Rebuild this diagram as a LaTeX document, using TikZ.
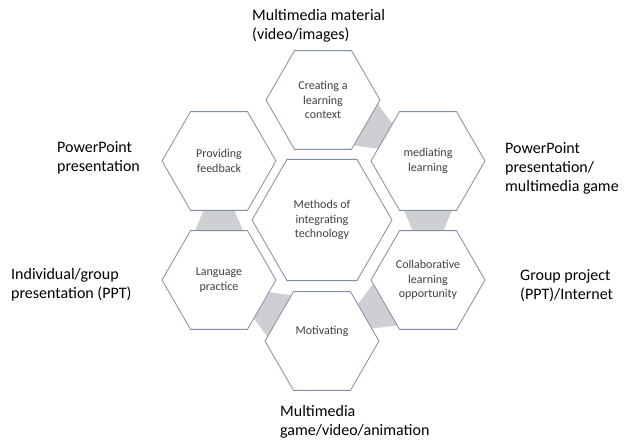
\documentclass[tikz,border=0pt]{standalone}
\usepackage{fontspec}
\setmainfont{Carlito}
\usetikzlibrary{shapes.geometric,calc,backgrounds}
\definecolor{hexline}{RGB}{128,142,162}
\definecolor{linkgray}{RGB}{206,207,211}
\definecolor{hextext}{RGB}{64,64,64}
\def\hexlink#1#2{%
  \path ($(#1)!47pt!(#2)$) coordinate (p) ($(#1)!73pt!(#2)$) coordinate (q);
  \fill[link] ($(p)!25pt!90:(#2)$) -- ($(p)!25pt!-90:(#2)$)
    -- ($(q)!14pt!-90:(#2)$) -- ($(q)!14pt!90:(#2)$) -- cycle;}

\begin{document}
\begin{tikzpicture}
[x=1pt,y=-1pt,
 hex/.style={regular polygon,regular polygon sides=6,draw=hexline,line width=0.8pt,fill=white,inner sep=0pt,minimum size=114pt,align=center,text=hextext,font=\fontsize{12}{14.5}\selectfont},
 bighex/.style={hex,minimum size=140pt},
 hextxt/.style={align=center,text=hextext,font=\fontsize{12}{14.5}\selectfont},
 lbl/.style={anchor=west,align=left,inner sep=0pt,font=\fontsize{16}{19}\selectfont},
 link/.style={fill=linkgray,draw=none}]
\useasboundingbox (0,0) rectangle (633,445);
\node[bighex] (c) at (322,220) {Methods of\\integrating\\technology};
\node[hex] (create) at (323,100) {Creating a\\learning\\context};
\node[hex] (mediate) at (428,161) {mediating\\learning};
\node[hex] (collab) at (428,280) {Collaborative\\learning\\opportunity};
\node[hex] (motiv) at (322,341) {};
\node[hextxt] (motivtxt) at (322,331) {Motivating};
\node[hex] (lang) at (219,280) {Language\\practice};
\node[hex] (feed) at (219,161) {Providing\\feedback};
\node[lbl] (mm) at (252,26) {Multimedia material\\(video/images)};
\node[lbl] (ppl) at (57,158) {PowerPoint\\presentation};
\node[lbl] (ppr) at (505,168) {PowerPoint\\presentation/\\multimedia game};
\node[lbl] (ind) at (11,285) {Individual/group\\presentation (PPT)};
\node[lbl] (grp) at (520,286) {Group project\\(PPT)/Internet};
\node[lbl] (game) at (280,422) {Multimedia\\game/video/animation};
\begin{pgfonlayer}{background}
\hexlink{create}{mediate}
\hexlink{mediate}{collab}
\hexlink{collab}{motiv}
\hexlink{motiv}{lang}
\hexlink{lang}{feed}
\end{pgfonlayer}
\end{tikzpicture}
\end{document}
